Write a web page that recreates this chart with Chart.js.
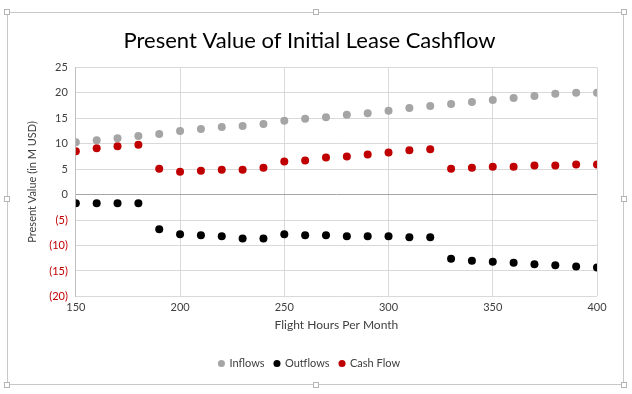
<!DOCTYPE html>
<html>
<head>
<meta charset="utf-8">
<script src="https://cdn.jsdelivr.net/npm/chart.js@4"></script>
<style>
  html, body { margin: 0; padding: 0; background: #fff; }
  #wrap { position: relative; width: 632px; height: 394px; }
  #frame { position: absolute; left: 7px; top: 12px; width: 617px; height: 373px; border: 1px solid #c8c8c8; box-sizing: border-box; }
  .h { position: absolute; width: 6px; height: 6px; border: 1px solid #b4b4b4; background: #fff; box-sizing: border-box; }
  #box { position: absolute; left: 0; top: 0; width: 632px; height: 394px; }
</style>
</head>
<body>
<div id="wrap">
  <div id="frame"></div>
  <div class="h" style="left:4px;top:9px"></div>
  <div class="h" style="left:313px;top:9px"></div>
  <div class="h" style="left:621px;top:9px"></div>
  <div class="h" style="left:4px;top:196px"></div>
  <div class="h" style="left:621px;top:196px"></div>
  <div class="h" style="left:4px;top:382px"></div>
  <div class="h" style="left:313px;top:382px"></div>
  <div class="h" style="left:621px;top:382px"></div>
  <div id="box"><canvas id="chart" width="632" height="394"></canvas></div>
</div>
<script>
const hours = [150, 160, 170, 180, 190, 200, 210, 220, 230, 240, 250, 260, 270,
               280, 290, 300, 310, 320, 330, 340, 350, 360, 370, 380, 390, 400];

const inflows = [10.3, 10.7, 11.1, 11.5, 11.9, 12.5, 12.9, 13.3, 13.5, 13.9, 14.5, 14.9, 15.2,
                 15.7, 16.0, 16.5, 17.0, 17.4, 17.8, 18.2, 18.6, 19.0, 19.4, 19.8, 20.0, 20.0];

const outflows = [-1.7, -1.7, -1.7, -1.7, -6.8, -7.8, -8.0, -8.2, -8.6, -8.6, -7.8, -8.0, -8.0,
                  -8.2, -8.2, -8.2, -8.4, -8.4, -12.6, -13.0, -13.2, -13.4, -13.7, -13.9, -14.1, -14.3];

const cashFlow = [8.5, 9.1, 9.5, 9.8, 5.1, 4.5, 4.7, 4.9, 4.9, 5.3, 6.5, 6.7, 7.3,
                  7.5, 7.9, 8.3, 8.7, 8.9, 5.1, 5.3, 5.5, 5.5, 5.7, 5.7, 5.9, 5.9];

const toPoints = vals => vals.map((v, i) => ({x: hours[i], y: v}));

const font = "'Lato', 'Open Sans', sans-serif";
const textColor = '#404040';

const ctx = document.getElementById('chart').getContext('2d');
new Chart(ctx, {
    type: 'scatter',
    data: {
        datasets: [
            {label: 'Inflows', data: toPoints(inflows), backgroundColor: '#a5a5a5', borderColor: '#a5a5a5'},
            {label: 'Outflows', data: toPoints(outflows), backgroundColor: '#000000', borderColor: '#000000'},
            {label: 'Cash Flow', data: toPoints(cashFlow), backgroundColor: '#c00000', borderColor: '#c00000'}
        ]
    },
    options: {
        responsive: false,
        animation: false,
        elements: {point: {radius: 4, borderWidth: 0}},
        layout: {padding: {left: 22, right: 35, top: 10, bottom: 15}},
        plugins: {
            title: {
                display: true,
                text: 'Present Value of Initial Lease Cashflow',
                color: '#000',
                font: {family: font, size: 22, weight: 'normal'},
                padding: {top: 18, bottom: 13}
            },
            legend: {
                position: 'bottom',
                labels: {
                    usePointStyle: true,
                    pointStyle: 'circle',
                    boxWidth: 5,
                    boxHeight: 5,
                    padding: 10,
                    color: textColor,
                    font: {family: font, size: 11}
                }
            },
            tooltip: {enabled: false}
        },
        scales: {
            x: {
                type: 'linear',
                min: 150,
                max: 400,
                ticks: {stepSize: 50, color: textColor, font: {family: font, size: 11}, padding: 4},
                grid: {color: '#d9d9d9', drawTicks: false},
                border: {display: false},
                title: {display: true, text: 'Flight Hours Per Month', color: textColor, font: {family: font, size: 12}, padding: {top: 0, bottom: 16}}
            },
            y: {
                min: -20,
                max: 25,
                ticks: {
                    stepSize: 5,
                    padding: 8,
                    font: {family: font, size: 11},
                    color: c => c.tick && c.tick.value < 0 ? '#c00000' : textColor,
                    callback: v => v < 0 ? '(' + Math.abs(v) + ')' : v
                },
                grid: {
                    color: c => c.tick && c.tick.value === 0 ? '#a6a6a6' : '#d9d9d9',
                    drawTicks: false
                },
                border: {display: true, color: '#bfbfbf'},
                title: {display: true, text: 'Present Value (in M USD)', color: textColor, font: {family: font, size: 11}, padding: {bottom: 2}}
            }
        }
    }
});
</script>
</body>
</html>
